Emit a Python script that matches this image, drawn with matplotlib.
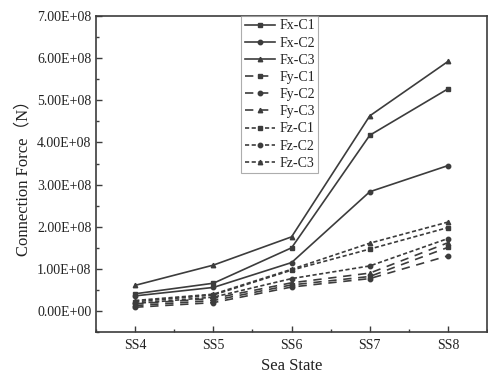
import numpy as np
import matplotlib
matplotlib.use('Agg')
import matplotlib.pyplot as plt
from matplotlib.ticker import FuncFormatter, MultipleLocator

# --- data (unit N) ---
states = ['SS4', 'SS5', 'SS6', 'SS7', 'SS8']

fx_c1 = [0.41e8, 0.66e8, 1.50e8, 4.17e8, 5.27e8]
fx_c2 = [0.36e8, 0.56e8, 1.15e8, 2.83e8, 3.45e8]
fx_c3 = [0.61e8, 1.09e8, 1.76e8, 4.63e8, 5.92e8]
fy_c1 = [0.13e8, 0.25e8, 0.62e8, 0.82e8, 1.51e8]
fy_c2 = [0.09e8, 0.20e8, 0.57e8, 0.77e8, 1.31e8]
fy_c3 = [0.17e8, 0.30e8, 0.67e8, 0.90e8, 1.62e8]
fz_c1 = [0.22e8, 0.38e8, 0.97e8, 1.47e8, 1.98e8]
fz_c2 = [0.18e8, 0.33e8, 0.77e8, 1.07e8, 1.72e8]
fz_c3 = [0.25e8, 0.40e8, 0.99e8, 1.61e8, 2.11e8]

series = [
    ('Fx-C1', fx_c1, '-', 's'),
    ('Fx-C2', fx_c2, '-', 'o'),
    ('Fx-C3', fx_c3, '-', '^'),
    ('Fy-C1', fy_c1, (0, (5, 4)), 's'),
    ('Fy-C2', fy_c2, (0, (5, 4)), 'o'),
    ('Fy-C3', fy_c3, (0, (5, 4)), '^'),
    ('Fz-C1', fz_c1, (0, (2.5, 1.5)), 's'),
    ('Fz-C2', fz_c2, (0, (2.5, 1.5)), 'o'),
    ('Fz-C3', fz_c3, (0, (2.5, 1.5)), '^'),
]

plt.rcParams['font.family'] = ['Liberation Serif', 'Noto Sans CJK SC']
col = '#3c3c3c'

fig = plt.figure(figsize=(4.88, 3.80), dpi=100)
ax = fig.add_axes([0.197, 0.126, 0.801, 0.832])

x = np.arange(len(states))
for name, vals, ls, mk in series:
    ax.plot(x, vals, linestyle=ls, marker=mk, color=col, lw=1.2,
            markersize=3.2, label=name)

ax.set_xlim(-0.5, 4.5)
ax.set_ylim(-0.5e8, 7e8)
ax.set_xticks(x)
ax.set_xticklabels(states)
ax.xaxis.set_minor_locator(MultipleLocator(0.5))
ax.set_yticks(np.arange(0, 7.01e8, 1e8))
ax.yaxis.set_minor_locator(MultipleLocator(0.5e8))
ax.yaxis.set_major_formatter(FuncFormatter(lambda v, p: f'{v:.2E}'))

ax.tick_params(which='both', direction='in', labelsize=10, colors=col,
               labelcolor='#222222')
ax.tick_params(which='major', length=4, width=1)
ax.tick_params(which='minor', length=2.5, width=1)
ax.tick_params(axis='x', pad=5)
for s in ax.spines.values():
    s.set_color(col)
    s.set_linewidth(1.2)

ax.set_xlabel('Sea State', fontsize=12, color='#222222', labelpad=4)
ax.set_ylabel('Connection Force（N）', fontsize=12, color='#222222', labelpad=4)

leg = ax.legend(loc='upper center', bbox_to_anchor=(0.47, 1.0), fontsize=10,
                frameon=True, fancybox=False, edgecolor='#999999',
                handlelength=2.2, labelspacing=0.3, borderpad=0.25,
                handletextpad=0.3, borderaxespad=0.0)
leg.get_frame().set_linewidth(0.8)
for t in leg.get_texts():
    t.set_color('#222222')

fig.savefig('out.png', dpi=100)
